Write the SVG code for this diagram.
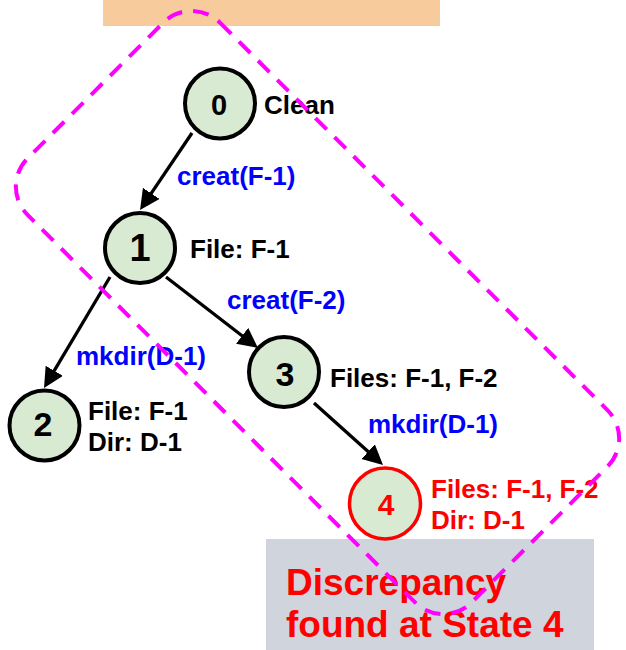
<svg xmlns="http://www.w3.org/2000/svg" width="626" height="650" viewBox="0 0 626 650">
<style>
.node{fill:#D9EAD3;stroke:#000;stroke-width:4}
.bad{fill:#D9EAD3;stroke:#FF0000;stroke-width:3.5}
.num{font-family:"Liberation Sans",Arial,sans-serif;font-weight:bold;text-anchor:middle;fill:#000}
.lbl{font-family:"Liberation Sans",Arial,sans-serif;font-weight:bold;font-size:26px;fill:#000}
.op{font-family:"Liberation Sans",Arial,sans-serif;font-weight:bold;font-size:26px;fill:#0000FF}
.big{font-size:37px}
.red{fill:#FF0000}
.edge{stroke:#000;stroke-width:3.3;fill:none;marker-end:url(#ah)}
</style>
<defs>
<marker id="ah" markerUnits="userSpaceOnUse" markerWidth="22" markerHeight="22" refX="4" refY="10" orient="auto">
<path d="M0,0 L20,10 L0,20 z" fill="#000"/>
</marker>
</defs>
<rect id="top-bar" x="103" y="0" width="337" height="26" fill="#F8CB9D"/>
<rect id="note-box" x="266" y="539" width="328" height="111" fill="#D0D4DC"/>
<g id="connectors">
<line class="edge" x1="192" y1="133" x2="149" y2="196.7"/>
<line class="edge" x1="110" y1="277" x2="52.2" y2="374.2"/>
<line class="edge" x1="166" y1="277" x2="245.3" y2="338.2"/>
<line class="edge" x1="314" y1="403" x2="371.1" y2="454.3"/>
<text class="op" x="177" y="185">creat(F-1)</text>
<text class="op" x="227" y="309">creat(F-2)</text>
<text class="op" x="76" y="365">mkdir(D-1)</text>
<text class="op" x="368" y="433">mkdir(D-1)</text>
</g>
<g id="node0">
<circle class="node" cx="220" cy="103.5" r="35"/>
<text class="num" x="219" y="115" font-size="29">0</text>
<text class="lbl" x="264" y="114">Clean</text>
</g>
<g id="node1">
<circle class="node" cx="140" cy="248" r="35"/>
<text class="num" x="140" y="261" font-size="38">1</text>
<text class="lbl" x="190" y="258">File: F-1</text>
</g>
<g id="node2">
<circle class="node" cx="44.5" cy="425.5" r="35"/>
<text class="num" x="43" y="436" font-size="34">2</text>
<text class="lbl" x="88" y="420">File: F-1</text>
<text class="lbl" x="88" y="451">Dir: D-1</text>
</g>
<g id="node3">
<circle class="node" cx="284" cy="372" r="35"/>
<text class="num" x="285" y="386" font-size="34">3</text>
<text class="lbl" x="330" y="387">Files: F-1, F-2</text>
</g>
<g id="node4">
<circle class="bad" cx="385" cy="503.5" r="35.5"/>
<text class="num red" x="386" y="515" font-size="30">4</text>
<text class="lbl red" x="431" y="498">Files: F-1, F-2</text>
<text class="lbl red" x="431" y="529">Dir: D-1</text>
</g>
<g id="note">
<text class="lbl big red" x="286" y="595">Discrepancy</text>
<text class="lbl big red" x="286" y="637">found at State 4</text>
</g>
<rect id="region" x="3.5" y="176.5" width="628" height="272" rx="40" ry="40" fill="none" stroke="#FF00FF" stroke-width="4" stroke-dasharray="16 11" transform="rotate(45 317.5 312.5)"/>
</svg>
